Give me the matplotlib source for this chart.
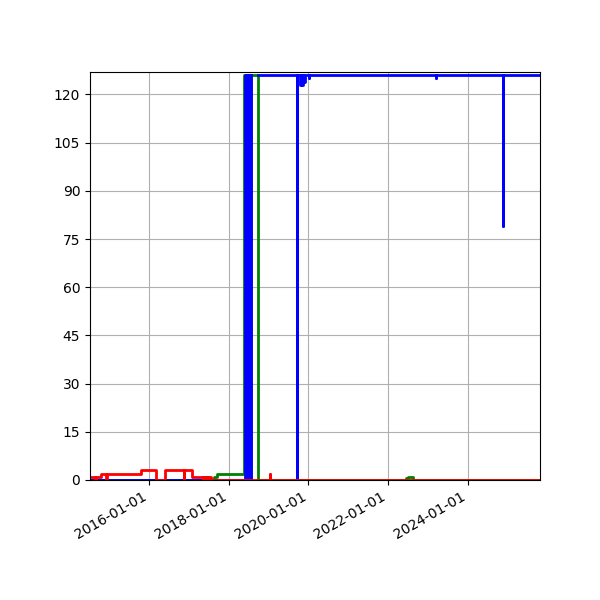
import numpy as np
import pandas as pd
import matplotlib
matplotlib.use('Agg')
import matplotlib.pyplot as plt
import matplotlib.dates as mdates
from matplotlib.ticker import MultipleLocator

# change points of each series (steps-post), NaN = no data
red_dates = ['2014-07-10', '2014-08-24', '2014-08-30', '2014-10-16', '2014-12-03', '2014-12-09',
             '2015-10-22', '2016-03-08', '2016-05-29', '2016-11-15', '2016-11-20', '2017-01-26',
             '2017-05-08', '2017-05-12', '2017-06-04', '2017-06-08', '2017-06-24', '2017-07-02',
             '2017-07-18', '2017-08-09', '2019-01-11', '2019-01-15', '2025-10-22']
red_values = [1, 0, 1, 2, 0, 2,
              3, 0, 3, 0, 3, 1,
              0, 1, 0, 1, 0, 1,
              0, 0, 2, 0, 0]

green_dates = ['2014-07-10', '2017-08-18', '2017-09-15', '2018-05-22', '2018-06-05', '2018-06-20',
               '2018-07-05', '2018-07-27', '2018-09-22', '2022-06-14', '2022-07-01', '2022-08-12',
               '2025-10-22']
green_values = [0, 1, 2, 126, 0, 126,
                0, 126, 0, 0.5, 1, 0,
                0]

blue_dates = ['2014-07-10', '2018-05-29', '2018-06-07', '2018-06-16', '2018-06-25', '2018-07-04',
              '2018-07-13', '2018-07-20', '2018-07-21', '2018-09-22', '2019-09-16', '2019-09-21',
              '2019-10-18', '2019-10-23', '2019-11-05', '2019-11-10', '2019-11-23', '2019-11-28',
              '2020-01-06', '2020-01-10', '2023-03-13', '2023-03-18', '2024-11-15', '2024-11-19',
              '2025-10-22']
blue_values = [0, 126, 0, 126, 0, 126,
               0, 126, np.nan, 126, 0, 126,
               123, 126, 123, 126, 124, 126,
               125, 126, 125, 126, 79, 126,
               126]

fig = plt.figure(figsize=(6, 6), dpi=100)
ax = fig.add_subplot(111)
ax.plot(pd.to_datetime(green_dates), green_values, color='green', lw=2, drawstyle='steps-post')
ax.plot(pd.to_datetime(blue_dates), blue_values, color='blue', lw=2, drawstyle='steps-post')
ax.plot(pd.to_datetime(red_dates), red_values, color='red', lw=2, drawstyle='steps-post')

ax.set_xlim(pd.Timestamp(red_dates[0]), pd.Timestamp(red_dates[-1]))
ax.set_ylim(0, 127)
ax.yaxis.set_major_locator(MultipleLocator(15))
ax.xaxis.set_major_locator(mdates.YearLocator(2))
ax.xaxis.set_major_formatter(mdates.DateFormatter('%Y-%m-%d'))
ax.grid(True)
fig.autofmt_xdate()
fig.subplots_adjust(left=0.15, right=0.9, top=0.88, bottom=0.2)
fig.savefig('out.png')
